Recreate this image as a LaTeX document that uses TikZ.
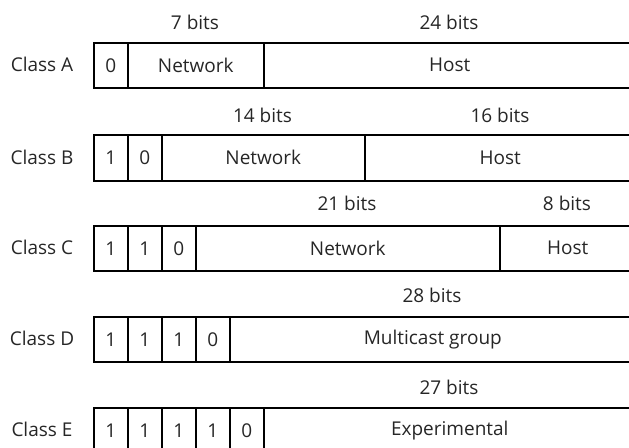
\documentclass[tikz,border=0pt]{standalone}
\usepackage{fontspec}
\setmainfont{Open Sans}
\begin{document}
\begin{tikzpicture}[x=1pt,y=-1pt,
  cell/.style={draw, line width=1.6pt, minimum height=45pt, inner sep=0pt, anchor=north west, font=\fontsize{19}{22}\selectfont, text=black!85},
  lbl/.style={font=\fontsize{19}{22}\selectfont, text=black!85, inner sep=0pt},
]
\useasboundingbox (0,0) rectangle (629,447);
\clip (0,0) rectangle (629,447);
% Class A
\node[lbl] (la) at (42,64.5) {Class A};
\node[cell, minimum width=34pt] (a0) at (93,42) {0};
\node[cell, minimum width=136pt] (an) at (127,42) {Network};
\node[cell, minimum width=372pt] (ah) at (263,42) {Host};
\node[lbl] (ban) at (195,22) {7 bits};
\node[lbl] (bah) at (449,22) {24 bits};
% Class B
\node[lbl] (lb) at (42,157) {Class B};
\node[cell, minimum width=34pt, minimum height=46pt] (b0) at (93,134) {1};
\node[cell, minimum width=34pt, minimum height=46pt] (b1) at (127,134) {0};
\node[cell, minimum width=203pt, minimum height=46pt] (bn) at (161,134) {Network};
\node[cell, minimum width=271pt, minimum height=46pt] (bh) at (364,134) {Host};
\node[lbl] (bbn) at (262.5,115) {14 bits};
\node[lbl] (bbh) at (500,115) {16 bits};
% Class C
\node[lbl] (lc) at (42,247.5) {Class C};
\node[cell, minimum width=34pt] (c0) at (93,225) {1};
\node[cell, minimum width=34pt] (c1) at (127,225) {1};
\node[cell, minimum width=34pt] (c2) at (161,225) {0};
\node[cell, minimum width=304pt] (cn) at (195,225) {Network};
\node[cell, minimum width=136pt] (ch) at (499,225) {Host};
\node[lbl] (bcn) at (347,203) {21 bits};
\node[lbl] (bch) at (567,203) {8 bits};
% Class D
\node[lbl] (ld) at (42,338.5) {Class D};
\node[cell, minimum width=34pt] (d0) at (93,316) {1};
\node[cell, minimum width=34pt] (d1) at (127,316) {1};
\node[cell, minimum width=34pt] (d2) at (161,316) {1};
\node[cell, minimum width=34pt] (d3) at (195,316) {0};
\node[cell, minimum width=406pt] (dm) at (229,316) {Multicast group};
\node[lbl] (bdm) at (432,295) {28 bits};
% Class E
\node[lbl] (le) at (42,429.5) {Class E};
\node[cell, minimum width=34pt] (e0) at (93,407) {1};
\node[cell, minimum width=34pt] (e1) at (127,407) {1};
\node[cell, minimum width=34pt] (e2) at (161,407) {1};
\node[cell, minimum width=34pt] (e3) at (195,407) {1};
\node[cell, minimum width=34pt] (e4) at (229,407) {0};
\node[cell, minimum width=372pt] (ex) at (263,407) {Experimental};
\node[lbl] (bex) at (449,387) {27 bits};
\end{tikzpicture}
\end{document}
